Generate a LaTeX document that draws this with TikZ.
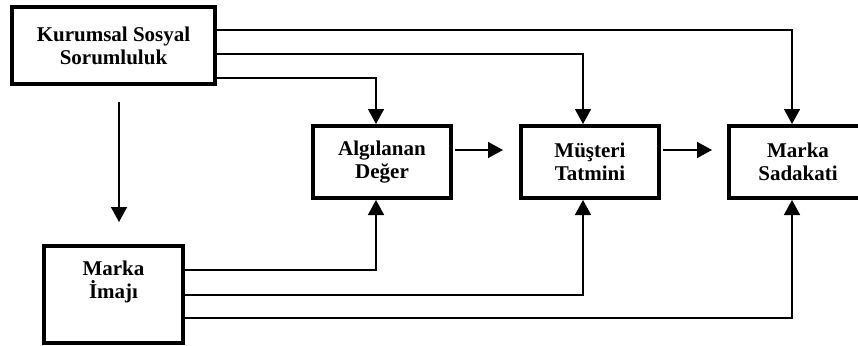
\documentclass[tikz,border=0pt]{standalone}
\usepackage{fontspec}
\setmainfont{Liberation Serif}
\usetikzlibrary{arrows.meta}

\tikzset{
  blok/.style={draw,line width=4pt,align=center,inner sep=0pt,
    font=\fontsize{21}{23}\selectfont\bfseries},
  ok/.style={-{Triangle[length=15pt,width=16pt]},line width=1.6pt},
}

\begin{document}
\begin{tikzpicture}[x=1pt,y=-1pt]
    \useasboundingbox (0,0) rectangle (858,345);
    % boxes
    \node[blok,minimum width=203pt,minimum height=77pt] (kss) at (113.5,45.5) {Kurumsal Sosyal\\Sorumluluk};
    \node[blok,minimum width=138pt,minimum height=72pt] (alg) at (382,162) {Algılanan\\Değer};
    \node[blok,minimum width=138pt,minimum height=72pt] (mus) at (590,162) {Müşteri\\Tatmini};
    \node[blok,minimum width=138pt,minimum height=72pt] (sad) at (798,162) {Marka\\Sadakati};
    \node[blok,minimum width=139pt,minimum height=97pt] (img) at (113.5,294.5) {Marka\\İmajı\\\strut};
    % from KSS
    \draw[ok] ([yshift=15.5pt]kss.east) -| ([xshift=-6pt]sad.north);
    \draw[ok] ([yshift=-8.5pt]kss.east) -| ([xshift=-7pt]mus.north);
    \draw[ok] ([yshift=-32.5pt]kss.east) -| ([xshift=-6pt]alg.north);
    \draw[ok] ([xshift=5.5pt,yshift=-16pt]kss.south) -- ([xshift=5.5pt,yshift=22pt]img.north);
    % chain
    \draw[ok] ([xshift=2pt,yshift=12pt]alg.east) -- ([xshift=-16pt,yshift=12pt]mus.west);
    \draw[ok] ([xshift=2pt,yshift=12pt]mus.east) -- ([xshift=-15pt,yshift=12pt]sad.west);
    % from image
    \draw[ok] ([yshift=24.5pt]img.east) -| ([xshift=-6pt]alg.south);
    \draw[ok] ([yshift=-0.5pt]img.east) -| ([xshift=-7pt]mus.south);
    \draw[ok] ([yshift=-23.5pt]img.east) -| ([xshift=-6pt]sad.south);
\end{tikzpicture}
\end{document}
